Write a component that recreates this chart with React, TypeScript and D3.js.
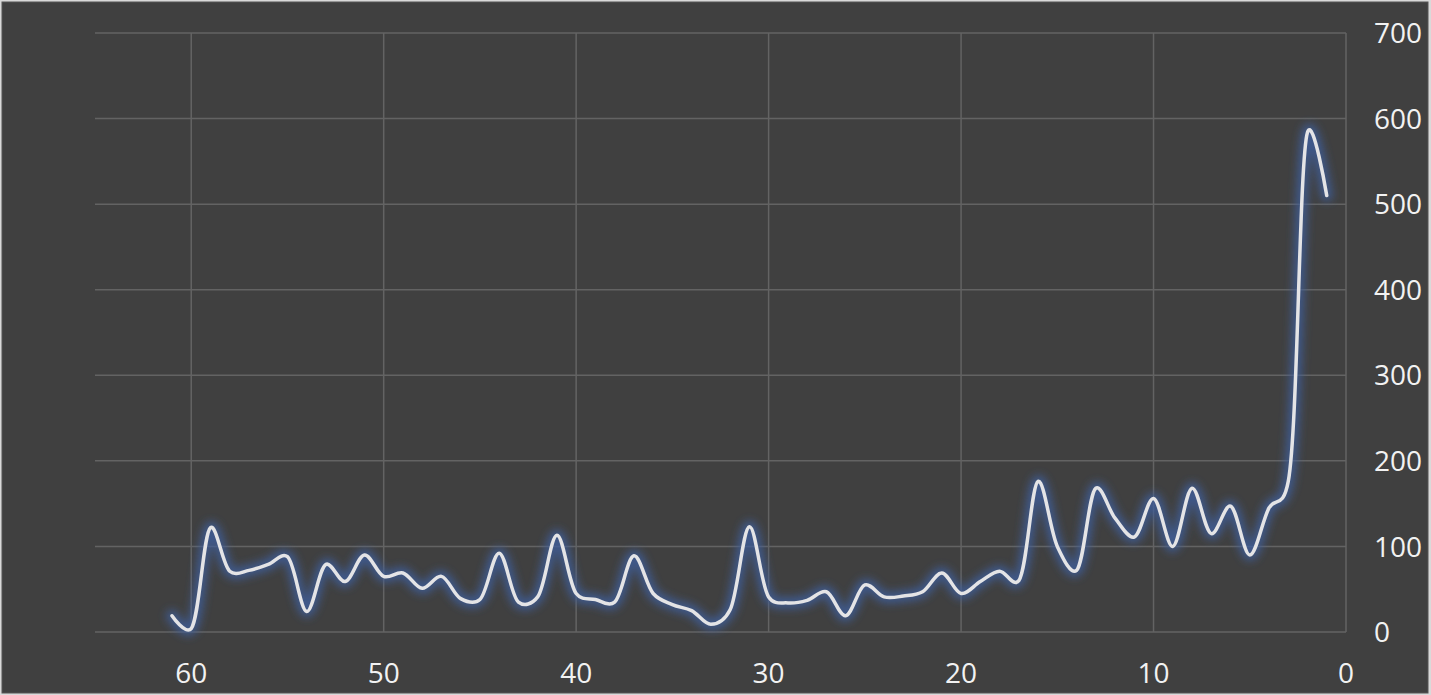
import React from "react";
import * as d3 from "d3";

const xValues: number[] = [61,60,59,58,57,56,55,54,53,52,51,50,49,48,47,46,45,44,43,42,41,40,39,38,37,36,35,34,33,32,31,30,29,28,27,26,25,24,23,22,21,20,19,18,17,16,15,14,13,12,11,10,9,8,7,6,5,4,3,2,1];
const yValues: number[] = [19,4,122,71,72,79,88,24,79,59,90,65,69,51,65,39,38,92,35,41,113,45,38,35,89,45,32,25,9,26,123,41,34,37,47,19,55,41,42,47,69,45,59,71,60,176,100,72,168,133,111,156,100,168,115,147,90,145,176,584,510];
const xTicks: number[] = [60,50,40,30,20,10,0];
const yTicks: number[] = [0,100,200,300,400,500,600,700];

const W = 1431, H = 695;
const M = { left: 95, right: 1346, top: 33, bottom: 632 };

export default function App() {
  const x = d3.scaleLinear().domain([65, 0]).range([M.left, M.right]);
  const y = d3.scaleLinear().domain([0, 700]).range([M.bottom, M.top]);
  const pts: [number, number][] = xValues.map((v, i) => [v, yValues[i]]);
  const line = d3.line<[number, number]>()
    .x(d => x(d[0]))
    .y(d => y(d[1]))
    .curve(d3.curveCatmullRom.alpha(0.25));
  const d = line(pts) || "";
  const font = "'Open Sans', 'DejaVu Sans', sans-serif";
  return (
    <svg width={W} height={H} style={{ position: "absolute", left: 0, top: 0, display: "block" }}>
      <defs>
        <filter id="glow" x="-10%" y="-10%" width="120%" height="120%">
          <feGaussianBlur stdDeviation="4" />
        </filter>
      </defs>
      <rect x={0} y={0} width={W} height={H} fill="#d9d9d9" />
      <rect x={2} y={2} width={W - 5} height={H - 4} fill="#404040" stroke="#555" strokeWidth={1} />
      {yTicks.map(t => (
        <line key={"h" + t} x1={M.left} x2={M.right} y1={y(t)} y2={y(t)} stroke="#636363" strokeWidth={1.5} />
      ))}
      {xTicks.map(t => (
        <line key={"v" + t} x1={x(t)} x2={x(t)} y1={M.top} y2={M.bottom} stroke="#636363" strokeWidth={1.5} />
      ))}
      <path d={d} fill="none" stroke="#3d5f9c" strokeOpacity={0.8} strokeWidth={12} filter="url(#glow)" strokeLinecap="round" strokeLinejoin="round" />
      <path d={d} fill="none" stroke="#e4e4e6" strokeWidth={3.5} strokeLinecap="round" strokeLinejoin="round" />
      {yTicks.map(t => (
        <text key={"yl" + t} x={1374} y={y(t)} dy="0.36em" fill="#f2f2f2" fontFamily={font} fontSize={28} textAnchor="start">{t}</text>
      ))}
      {xTicks.map(t => (
        <text key={"xl" + t} x={x(t)} y={673} dy="0.36em" fill="#f2f2f2" fontFamily={font} fontSize={28} textAnchor="middle">{t}</text>
      ))}
    </svg>
  );
}
